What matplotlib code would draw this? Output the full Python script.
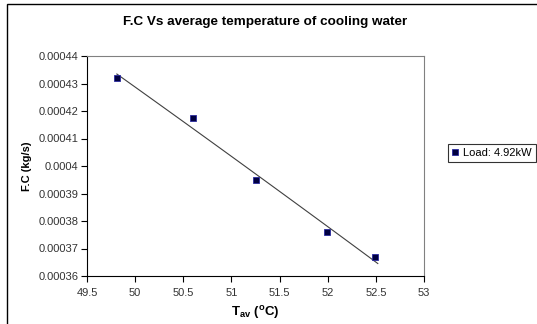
import numpy as np
import matplotlib.pyplot as plt
from matplotlib.patches import Rectangle
from matplotlib.ticker import FuncFormatter

plt.rcParams['font.family'] = ['Liberation Sans', 'DejaVu Sans']

# data
t_av = [49.81, 50.60, 51.26, 51.99, 52.49]
fuel_cons = [0.000432, 0.0004175, 0.000395, 0.000376, 0.000367]
series_label = "Load: 4.92kW"
title = "F.C Vs average temperature of cooling water"

W, H = 537, 324
fig = plt.figure(figsize=(W / 100, H / 100), dpi=100)
ax = fig.add_axes([87 / W, 1 - 276 / H, (424 - 87) / W, (276 - 56) / H])

# outer chart frame
fig.patches.append(Rectangle((7 / W, -0.1), 1.2, 1 - 4 / H + 0.1,
                             transform=fig.transFigure, fill=False,
                             edgecolor="black", linewidth=1.0))

ax.plot(t_av, fuel_cons, linestyle="none", marker="s", markersize=4.5,
        markerfacecolor="#000040", markeredgecolor="#2a2aa0",
        markeredgewidth=0.6, label=series_label, zorder=3)

# polynomial trend line
coef = np.polyfit(t_av, fuel_cons, 2)
xs = np.linspace(t_av[0], t_av[-1] + 0.03, 100)
ax.plot(xs, np.polyval(coef, xs), color="#404040", linewidth=0.8, zorder=2)

ax.set_xlim(49.5, 53)
ax.set_ylim(0.00036, 0.00044)
ax.set_xticks(np.arange(49.5, 53.01, 0.5))
ax.set_yticks(np.arange(0.00036, 0.000441, 0.00001))
fmt = FuncFormatter(lambda v, p: "%g" % round(v, 6))
ax.xaxis.set_major_formatter(fmt)
ax.yaxis.set_major_formatter(fmt)
ax.tick_params(direction="out", length=4, width=0.8, labelsize=8,
               colors="black", labelcolor="#333333")
ax.tick_params(axis="x", pad=5)
ax.tick_params(axis="y", pad=2)

for s in ["top", "right"]:
    ax.spines[s].set_color("#808080")
    ax.spines[s].set_linewidth(0.8)
for s in ["left", "bottom"]:
    ax.spines[s].set_color("black")
    ax.spines[s].set_linewidth(0.8)

ax.set_xlabel(r"T$_{\mathregular{av}}$ ($^{\mathregular{o}}$C)",
              fontsize=9.5, fontweight="bold", labelpad=4)
ax.set_ylabel("F.C (kg/s)", fontsize=8, fontweight="bold", labelpad=5)
fig.text(265 / W, 1 - 22 / H, title, ha="center",
         va="center", fontsize=9.7, fontweight="bold")

leg = fig.legend(loc="center left", bbox_to_anchor=(448 / W, 1 - 153 / H),
                 fontsize=8, frameon=True, fancybox=False, handlelength=0.6,
                 handletextpad=0.4, borderpad=0.35, borderaxespad=0)
leg.get_frame().set_edgecolor("black")
leg.get_frame().set_linewidth(0.8)

fig.savefig("out.png", dpi=100)
